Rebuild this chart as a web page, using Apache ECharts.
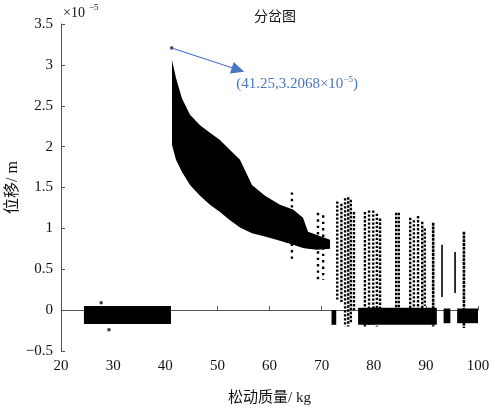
<!DOCTYPE html>
<html>
<head>
<meta charset="utf-8">
<script src="https://cdn.jsdelivr.net/npm/echarts@6/dist/echarts.min.js"></script>
<style>
  html, body { margin: 0; padding: 0; background: #fff; }
  #chart { width: 489px; height: 410px; }
</style>
</head>
<body>
<div id="chart"></div>
<script>
// Displacement values are in units of 1e-5 m.

// Axis ranges
const xRange = [20, 100, 10];
const yRange = [-0.5, 3.5, 0.5];

// Main descending branch: upper and lower envelope of the dense point cloud
const bandX     = [41.30, 42.06, 43.21, 44.75, 46.67, 48.58, 50.50, 52.42, 54.34, 56.64, 59.14, 62.01, 64.51, 66.43, 67.39, 69.11, 71.61];
const bandUpper = [3.06,  2.84,  2.59,  2.39,  2.26,  2.17,  2.08,  1.96,  1.84,  1.53,  1.40,  1.29,  1.23,  1.13,  0.96,  0.92,  0.86];
const bandLower = [2.02,  1.84,  1.69,  1.53,  1.40,  1.29,  1.20,  1.10,  1.01,  0.94,  0.90,  0.85,  0.80,  0.76,  0.75,  0.74,  0.75];

// Vertical point columns in the chaotic region (mass, min, max)
const colX  = [64.3, 69.3, 70.3, 73.0, 73.8, 74.5, 75.1, 75.6, 76.2, 78.3, 79.1, 79.9, 80.6, 81.2, 84.3, 84.8, 87.0, 87.7, 88.5, 89.3, 89.8, 91.4, 93.1, 95.6, 97.3];
const colLo = [0.59, 0.37, 0.37, 0.13, 0.10, -0.20, -0.20, -0.15, 0.00, -0.20, -0.20, -0.18, -0.20, -0.10, 0.00, -0.10, 0.00, -0.05, 0.00, -0.05, 0.05, -0.20, 0.16, 0.21, -0.22];
const colHi = [1.44, 1.19, 1.16, 1.33, 1.30, 1.37, 1.38, 1.35, 1.20, 1.20, 1.22, 1.22, 1.18, 1.12, 1.19, 1.19, 1.13, 1.10, 1.15, 1.08, 1.00, 1.07, 0.80, 0.71, 0.96];
// drawing style of each column
const colKind = ['sparse', 'sparse', 'sparse', 'dot', 'dot', 'dot', 'dot', 'dot', 'dot', 'dot', 'dot', 'dot', 'dot', 'dot', 'dot', 'dot', 'dot', 'dot', 'dot', 'dot', 'dot', 'dense', 'solid', 'solid', 'dense'];

// Near-zero steady-state blocks (mass from, mass to, min, max)
const blockFrom = [24.4, 71.9, 77.0, 93.4, 96.0];
const blockTo   = [41.1, 72.8, 92.1, 94.7, 100.2];
const blockLo   = [-0.17, -0.18, -0.18, -0.16, -0.16];
const blockHi   = [0.05, 0.00, 0.03, 0.02, 0.02];

// Isolated points
const peakPoint = [41.25, 3.2068];
const strayX = [27.7, 29.2];
const strayY = [0.09, -0.24];

// Annotation arrow tip and label anchor
const arrowTip = [53.96, 2.94];
const labelAt  = [53.6, 2.77];

const serif = '"Liberation Serif", "Times New Roman", "Noto Sans CJK SC", serif';
const cjk = '"Liberation Serif", "Noto Sans CJK SC", serif';

const chart = echarts.init(document.getElementById('chart'));

const dashFor = {
  sparse: { lineWidth: 2.4, lineDash: [2.4, 4] },
  dot:    { lineWidth: 2.4, lineDash: [2.4, 1.6] },
  dense:  { lineWidth: 2.6, lineDash: [3, 0.8] },
  solid:  { lineWidth: 1.6, lineDash: null }
};

chart.setOption({
  animation: false,
  backgroundColor: '#fff',
  title: {
    text: '分岔图',
    left: 270,
    top: 5,
    textAlign: 'center',
    textStyle: { fontFamily: cjk, fontSize: 14, fontWeight: 'normal', color: '#111' }
  },
  grid: { left: 61, right: 11, top: 24, bottom: 59, containLabel: false, outerBoundsMode: 'none' },
  xAxis: {
    type: 'value',
    min: xRange[0], max: xRange[1], interval: xRange[2],
    name: '松动质量/ kg',
    nameLocation: 'middle',
    nameGap: 40,
    nameMoveOverlap: false,
    nameTextStyle: { fontFamily: cjk, fontSize: 15, color: '#111' },
    axisLine: { lineStyle: { color: '#555', width: 1 } },
    axisTick: { inside: true, length: 4, lineStyle: { color: '#555' } },
    axisLabel: { fontFamily: serif, fontSize: 15, color: '#111', margin: 8 },
    splitLine: { show: false }
  },
  yAxis: {
    type: 'value',
    min: yRange[0], max: yRange[1], interval: yRange[2],
    name: '位移/ m',
    nameLocation: 'middle',
    nameGap: 40,
    nameMoveOverlap: false,
    nameTextStyle: { fontFamily: cjk, fontSize: 16, color: '#111' },
    axisLine: { show: true, lineStyle: { color: '#555', width: 1 } },
    axisTick: { show: true, inside: true, length: 4, lineStyle: { color: '#555' } },
    axisLabel: {
      fontFamily: serif, fontSize: 15, color: '#111', margin: 8,
      formatter: v => String(v).replace('-', '\u2212')
    },
    splitLine: { show: false }
  },
  graphic: [
    // exponent of the displacement axis
    { type: 'text', left: 63, top: 6, style: { text: '×10', font: '14px ' + serif, fill: '#111' } },
    { type: 'text', left: 89, top: 3, style: { text: '\u22125', font: '9px ' + serif, fill: '#111' } }
  ],
  series: [
    {
      name: 'branch',
      type: 'custom',
      clip: true,
      data: [[bandX[0], bandUpper[0]]],
      renderItem: function (params, api) {
        const up = bandX.map((x, i) => api.coord([x, bandUpper[i]]));
        const lo = bandX.map((x, i) => api.coord([x, bandLower[i]])).reverse();
        return { type: 'polygon', shape: { points: up.concat(lo) }, style: { fill: '#000' } };
      }
    },
    {
      name: 'blocks',
      type: 'custom',
      clip: true,
      data: blockFrom.map((x, i) => [x, blockTo[i], blockLo[i], blockHi[i]]),
      renderItem: function (params, api) {
        const a = api.coord([api.value(0), api.value(3)]);
        const b = api.coord([api.value(1), api.value(2)]);
        return { type: 'rect', shape: { x: a[0], y: a[1], width: b[0] - a[0], height: b[1] - a[1] }, style: { fill: '#000' } };
      }
    },
    {
      name: 'columns',
      type: 'custom',
      clip: true,
      data: colX.map((x, i) => [x, colLo[i], colHi[i], i]),
      renderItem: function (params, api) {
        const top = api.coord([api.value(0), api.value(2)]);
        const bot = api.coord([api.value(0), api.value(1)]);
        const d = dashFor[colKind[api.value(3)]];
        return {
          type: 'line',
          shape: { x1: top[0], y1: top[1], x2: bot[0], y2: bot[1] },
          style: { stroke: '#000', lineWidth: d.lineWidth, lineDash: d.lineDash }
        };
      }
    },
    {
      name: 'points',
      type: 'scatter',
      symbol: 'rect',
      symbolSize: 3,
      itemStyle: { color: '#000' },
      data: [peakPoint].concat(strayX.map((x, i) => [x, strayY[i]])),
      markLine: {
        silent: true,
        symbol: ['none', 'triangle'],
        symbolSize: [12, 13],
        label: { show: false },
        lineStyle: { color: '#4a74c4', width: 1.2, type: 'solid' },
        data: [[{ coord: peakPoint }, { coord: arrowTip }]]
      },
      markPoint: {
        silent: true,
        symbol: 'circle',
        symbolSize: 0,
        data: [{
          coord: labelAt,
          label: {
            show: true,
            position: 'right',
            distance: 0,
            formatter: '{b|(' + peakPoint[0] + ',' + peakPoint[1] + '×10}{s|\u22125}{b|)}',
            rich: {
              b: { fontFamily: serif, fontSize: 15, color: '#4a74c4', lineHeight: 18 },
              s: { fontFamily: serif, fontSize: 9, color: '#4a74c4', verticalAlign: 'top', lineHeight: 18 }
            }
          }
        }]
      }
    }
  ]
});
</script>
</body>
</html>
